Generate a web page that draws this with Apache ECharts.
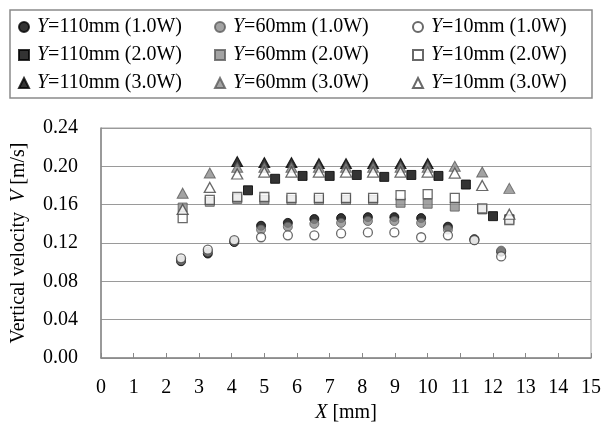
<!DOCTYPE html>
<html>
<head>
<meta charset="utf-8">
<script src="https://cdn.jsdelivr.net/npm/echarts@6/dist/echarts.min.js"></script>
<style>html,body{margin:0;padding:0;background:#fff}#c{width:604px;height:429px}</style>
</head>
<body>
<div id="c"></div>
<script>
// X positions (mm)
const xCircle = [2.45, 3.27, 4.08, 4.9, 5.72, 6.53, 7.35, 8.17, 8.98, 9.8, 10.62, 11.43, 12.25];
const xMain = [2.5, 3.33, 4.17, 5.0, 5.83, 6.67, 7.5, 8.33, 9.17, 10.0, 10.83, 11.67, 12.5];
const xBlackTri = [4.17, 5.0, 5.83, 6.67, 7.5, 8.33, 9.17, 10.0];
const xBlackSq = [4.5, 5.33, 6.17, 7.0, 7.83, 8.67, 9.5, 10.33, 11.17, 12.0];

// Vertical velocity V (m/s)
const v110_1W = [0.101, 0.109, 0.121, 0.138, 0.141, 0.145, 0.146, 0.147, 0.147, 0.146, 0.137, 0.124, 0.111];
const v60_1W  = [0.102, 0.111, 0.122, 0.134, 0.137, 0.140, 0.141, 0.143, 0.143, 0.141, 0.134, 0.123, 0.112];
const v10_1W  = [0.104, 0.113, 0.123, 0.126, 0.128, 0.128, 0.130, 0.131, 0.131, 0.126, 0.128, 0.123, 0.106];
const v110_2W = [0.175, 0.187, 0.190, 0.190, 0.191, 0.189, 0.191, 0.190, 0.181, 0.148];
const v60_2W  = [0.157, 0.163, 0.166, 0.165, 0.165, 0.165, 0.165, 0.165, 0.162, 0.161, 0.158, 0.155, 0.145];
const v10_2W  = [0.146, 0.165, 0.168, 0.168, 0.167, 0.167, 0.167, 0.167, 0.170, 0.171, 0.167, 0.156, 0.144];
const v110_3W = [0.205, 0.204, 0.204, 0.203, 0.203, 0.203, 0.203, 0.203];
const v60_3W  = [0.172, 0.193, 0.199, 0.199, 0.199, 0.199, 0.199, 0.199, 0.199, 0.199, 0.200, 0.194, 0.177];
const v10_3W  = [0.155, 0.178, 0.192, 0.194, 0.194, 0.194, 0.194, 0.194, 0.194, 0.194, 0.193, 0.180, 0.150];

const yTicks = [0, 0.04, 0.08, 0.12, 0.16, 0.20, 0.24];

const names = [
  'Y=110mm (1.0W)', 'Y=60mm (1.0W)', 'Y=10mm (1.0W)',
  'Y=110mm (2.0W)', 'Y=60mm (2.0W)', 'Y=10mm (2.0W)',
  'Y=110mm (3.0W)', 'Y=60mm (3.0W)', 'Y=10mm (3.0W)'
];

const FONT = 'Liberation Serif';
const zip = (xs, ys) => xs.map((x, i) => [x, ys[i]]);

const BLACK = {color: '#000', borderColor: '#000', borderWidth: 1};
const GRAY = {color: '#8c8c8c', borderColor: '#5a5a5a', borderWidth: 1};
const OPEN = {color: '#fff', borderColor: '#444', borderWidth: 1.3};

function s(name, xs, ys, symbol, size, style) {
  return {
    name, type: 'scatter', data: zip(xs, ys), symbol, symbolSize: size,
    itemStyle: style, emphasis: {disabled: true}
  };
}

const series = [
  s(names[0], xCircle, v110_1W, 'circle', 9, BLACK),
  s(names[1], xCircle, v60_1W, 'circle', 9, GRAY),
  s(names[2], xCircle, v10_1W, 'circle', 9, OPEN),
  s(names[3], xBlackSq, v110_2W, 'rect', 9, BLACK),
  s(names[4], xMain, v60_2W, 'rect', 9, GRAY),
  s(names[5], xMain, v10_2W, 'rect', 9, OPEN),
  s(names[6], xBlackTri, v110_3W, 'triangle', [11, 10], BLACK),
  s(names[7], xMain, v60_3W, 'triangle', [11, 10], GRAY),
  s(names[8], xMain, v10_3W, 'triangle', [11, 10], OPEN)
];

const legendRich = {
  i: {fontFamily: FONT, fontSize: 20, fontStyle: 'italic', color: '#000', lineHeight: 20, padding: [0, 0, 0, 3]},
  n: {fontFamily: FONT, fontSize: 20, color: '#000', lineHeight: 20}
};
function legendCol(left, data) {
  return {
    left, top: 12, orient: 'vertical', itemGap: 8, itemWidth: 10, itemHeight: 10,
    selectedMode: false, data,
    formatter: n => '{i|Y}{n|' + n.slice(1) + '}',
    textStyle: {rich: legendRich, fontFamily: FONT, fontSize: 20}
  };
}

const chart = echarts.init(document.getElementById('c'), null, {renderer: 'canvas'});
chart.setOption({
  animation: false,
  backgroundColor: '#fff',
  graphic: [{
    type: 'rect', shape: {x: 10, y: 10, width: 582, height: 88},
    style: {fill: 'none', stroke: '#8a8a8a', lineWidth: 1.5}, silent: true
  }],
  legend: [
    legendCol(13, [names[0], names[3], names[6]]),
    legendCol(209, [names[1], names[4], names[7]]),
    legendCol(407, [names[2], names[5], names[8]])
  ],
  grid: {left: 101, right: 11, top: 128, bottom: 71, show: true, borderColor: '#a0a0a0', borderWidth: 1},
  xAxis: {
    type: 'value', min: 0, max: 15, interval: 1,
    name: '{i|X}{n| [mm]}', nameLocation: 'middle', nameGap: 45,
    nameTextStyle: {rich: {
      i: {fontFamily: FONT, fontSize: 20, fontStyle: 'italic', color: '#000'},
      n: {fontFamily: FONT, fontSize: 20, color: '#000'}
    }},
    axisLine: {show: true, lineStyle: {color: '#888', width: 1.5}},
    axisTick: {show: true, inside: true, length: 5, lineStyle: {color: '#888', width: 1}},
    axisLabel: {fontFamily: FONT, fontSize: 20, color: '#000', margin: 20},
    splitLine: {show: false}
  },
  yAxis: {
    type: 'value', min: 0, max: 0.24, interval: 0.04,
    name: '{n|Vertical velocity  }{i|V}{n| [m/s]}', nameLocation: 'middle', nameGap: 72,
    nameTextStyle: {rich: {
      i: {fontFamily: FONT, fontSize: 20, fontStyle: 'italic', color: '#000'},
      n: {fontFamily: FONT, fontSize: 20, color: '#000'}
    }},
    axisLine: {show: true, lineStyle: {color: '#888', width: 1.5}},
    axisTick: {show: false},
    axisLabel: {fontFamily: FONT, fontSize: 20, color: '#000', margin: 23,
      formatter: v => yTicks.includes(Math.round(v * 100) / 100) ? v.toFixed(2) : ''},
    splitLine: {show: true, lineStyle: {color: '#9a9a9a', width: 1}}
  },
  series
});
</script>
</body>
</html>
